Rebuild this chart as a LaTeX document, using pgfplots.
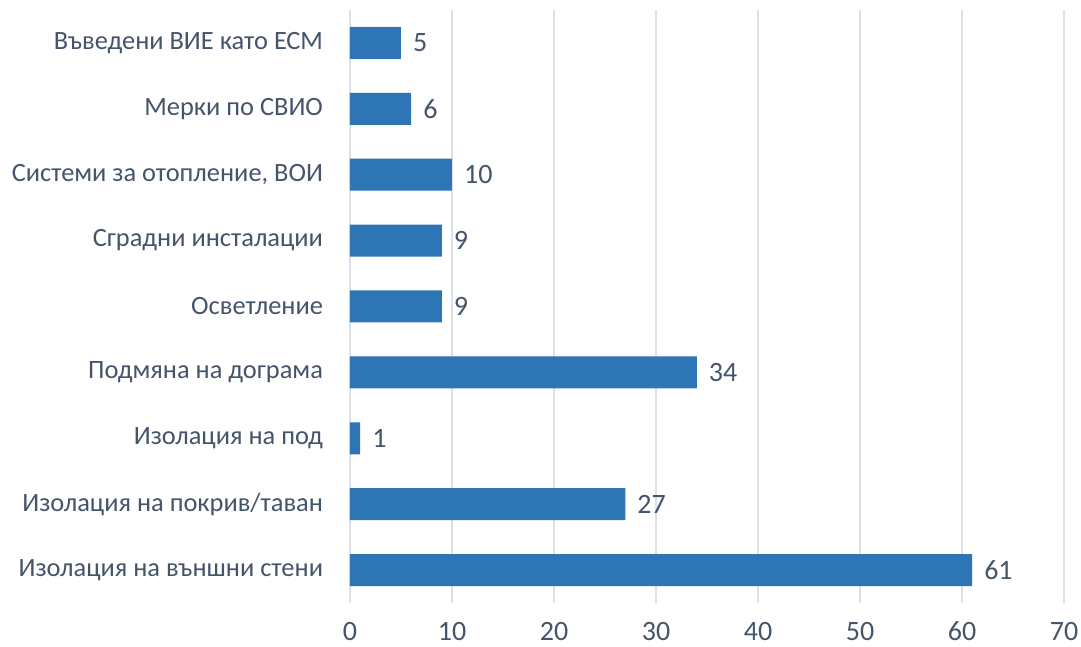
\documentclass[border=0pt]{standalone}
\usepackage{fontspec}
\setmainfont{Carlito}
\usepackage{pgfplots}
\pgfplotsset{compat=1.18}
\definecolor{barblue}{HTML}{2E75B6}
\definecolor{txt}{HTML}{44546A}
\definecolor{gridc}{HTML}{DDE1E7}
\begin{document}
\begin{tikzpicture}
\begin{axis}[name=ax, xbar, scale only axis, width=357pt, height=296.5pt,
  xmin=0, xmax=70, ymin=-0.5, ymax=8.5,
  xtick={0,10,...,70}, ytick={0,...,8},
  yticklabels={Изолация на външни стени, Изолация на покрив/таван, Изолация на под\ , Подмяна на дограма, Осветление\ , Сградни инсталации, {Системи за отопление, ВОИ}, Мерки по СВИО, Въведени ВИЕ като ЕСМ},
  axis line style={draw=none}, major tick length=0pt,
  xmajorgrids, grid style={draw=gridc, line width=0.75pt},
  bar width=16pt,
  nodes near coords,
  every node near coord/.append style={font=\fontsize{14}{16}\selectfont, color=txt, xshift=2.5pt},
  ticklabel style={font=\fontsize{13.2}{15}\selectfont, color=txt},
  xticklabel style={font=\fontsize{14}{16}\selectfont, yshift=-6pt},
  /pgf/number format/assume math mode=true,
  yticklabel style={xshift=-10pt},
]
\addplot[fill=barblue, draw=none] coordinates {(61,0) (27,1) (1,2) (34,3) (9,4) (9,5) (10,6) (6,7) (5,8)};
\end{axis}
\pgfresetboundingbox
\path ([xshift=-175pt,yshift=-22pt]ax.south west) rectangle ([xshift=8.5pt,yshift=5pt]ax.north east);
\end{tikzpicture}
\end{document}
